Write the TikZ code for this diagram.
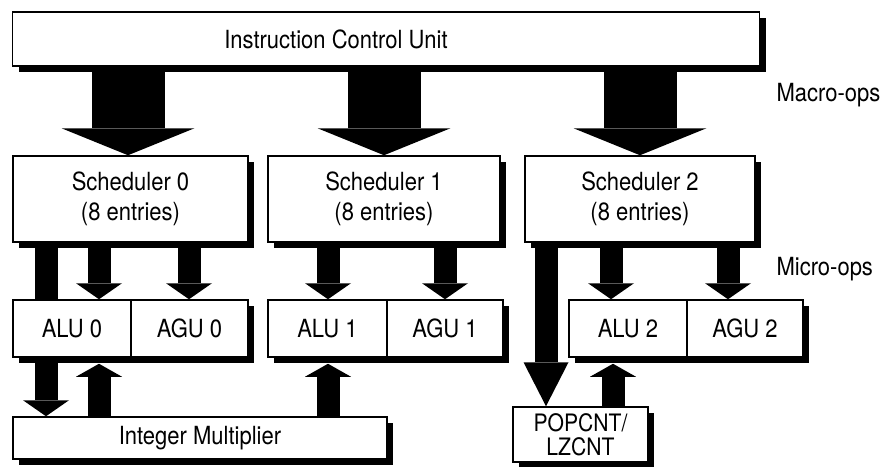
\documentclass[tikz,border=0pt]{standalone}
\usepackage{fontspec}
\setmainfont{TeX Gyre Heros}[FakeStretch=0.88]
\usetikzlibrary{arrows.meta,shadows,backgrounds,calc}

\tikzset{
  unit/.style={draw,line width=1.5pt,fill=white,inner sep=0pt,
    drop shadow={shadow xshift=6pt,shadow yshift=-6pt,fill=black,opacity=1}},
  bigarrow/.style={line width=73pt,-{Triangle[width=133pt,length=27pt,line width=0pt]}},
  uop/.style={line width=23pt,-{Triangle[width=46pt,length=16pt,line width=0pt]}},
}

\begin{document}
\begin{tikzpicture}[x=1pt,y=-1pt,font=\fontsize{25}{30}\selectfont]
  \useasboundingbox (0,0) rectangle (880,466);

  % front end
  \node[unit,minimum width=747pt,minimum height=54pt,
    label={[xshift=-50pt]center:Instruction Control Unit}] (icu) at (386,39) {};

  % schedulers
  \foreach \i/\x/\w in {0/130.5/235,1/384/232,2/640/230}
    \node[unit,minimum width=\w pt,minimum height=86pt,align=center] (sch\i) at (\x,199)
      {Scheduler \i\\(8 entries)};

  % execution units
  \foreach \name/\x/\w/\txt in {alu0/72/118/ALU 0,agu0/189.5/117/AGU 0,
      alu1/327.5/119/ALU 1,agu1/445/116/AGU 1,alu2/628/118/ALU 2,agu2/745/116/AGU 2}
    \node[unit,minimum width=\w pt,minimum height=57pt] (\name) at (\x,328.5) {\txt};

  \node[unit,minimum width=374pt,minimum height=42pt] (imul) at (200,438) {Integer Multiplier};
  \node[unit,minimum width=135pt,minimum height=55pt,align=center,
    font=\fontsize{24}{24}\selectfont] (pop) at (580.5,434.5) {POPCNT/\\LZCNT};

  \node[anchor=west] (macro) at (773,95) {Macro-ops};
  \node[anchor=west] (micro) at (773,269) {Micro-ops};

  % arrows behind the boxes
  \begin{scope}[on background layer]
    \foreach \x/\s in {128/sch0,384/sch1,640/sch2}
      \draw[bigarrow] (\x,0 |- icu.south) -- (\x,0 |- \s.north);
    \foreach \x/\s/\u in {99/sch0/alu0,189/sch0/agu0,328/sch1/alu1,445/sch1/agu1,611/sch2/alu2,728/sch2/agu2}
      \draw[uop] (\x,0 |- \s.south) -- (\x,0 |- \u.north);
    \draw[uop] (46,0 |- sch0.south) -- (46,0 |- imul.north);
    \draw[uop,-{Triangle[width=45pt,length=44pt,line width=0pt]}] (546,0 |- sch2.south) -- (546,0 |- pop.north);
    \foreach \x/\f/\u in {99/imul/alu0,328/imul/alu1,613/pop/alu2}
      \draw[uop,-{Triangle[width=46pt,length=13pt,line width=0pt]}] (\x,0 |- \f.north) -- ($(\x,0 |- \u.south)+(0,6)$);
  \end{scope}
\end{tikzpicture}
\end{document}
